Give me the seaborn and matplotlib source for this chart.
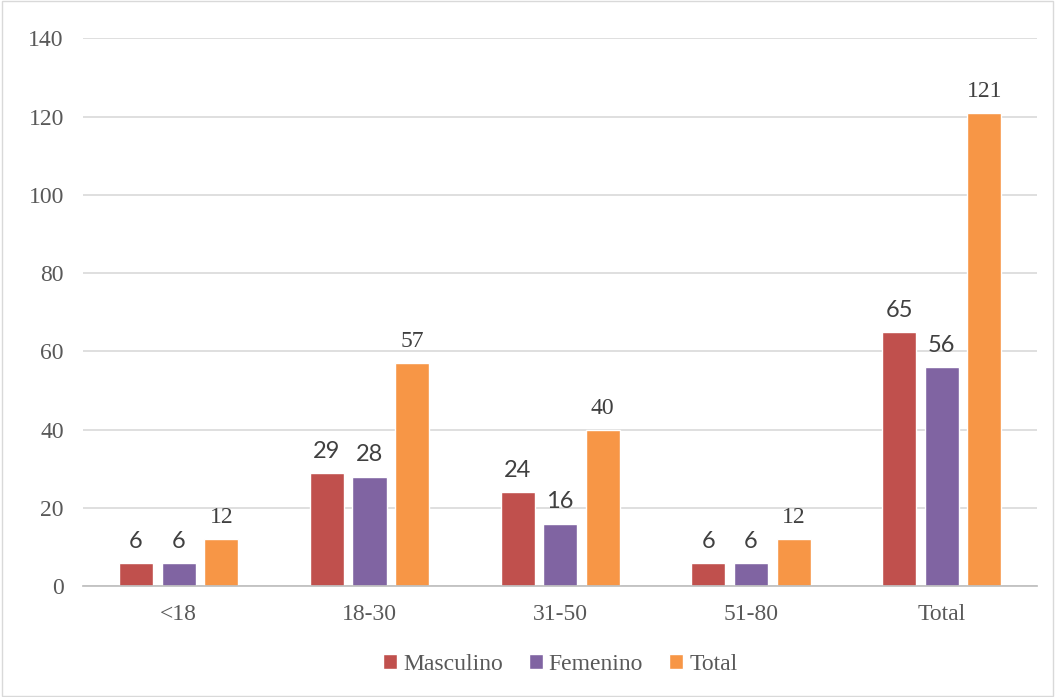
import matplotlib
matplotlib.use("Agg")
import matplotlib.pyplot as plt
import seaborn as sns
import pandas as pd
from matplotlib.patches import Rectangle

categories = ["<18", "18-30", "31-50", "51-80", "Total"]
masculino = [6, 29, 24, 6, 65]
femenino = [6, 28, 16, 6, 56]
total = [12, 57, 40, 12, 121]
series_names = ["Masculino", "Femenino", "Total"]
colors = ["#C0504D", "#8064A2", "#F79646"]

df = pd.DataFrame({
    "grupo": categories * 3,
    "serie": [s for s in series_names for _ in categories],
    "valor": masculino + femenino + total,
})

sns.set_theme(style="white")
plt.rcParams["font.family"] = ["Liberation Serif", "DejaVu Serif"]

fig = plt.figure(figsize=(10.55, 6.97), dpi=100)
ax = fig.add_axes([0.079, 0.159, 0.904, 0.786])

sns.barplot(data=df, x="grupo", y="valor", hue="serie", order=categories,
            hue_order=series_names, palette=colors, width=0.67, gap=0.2,
            saturation=1, ax=ax, legend=True)

ax.set_xlim(-0.5, 4.5)
ax.set_ylim(0, 140)
ax.set_yticks(range(0, 141, 20))
ax.yaxis.grid(True, color="#D9D9D9", linewidth=1.2)
ax.set_axisbelow(True)
for side in ["left", "right", "top"]:
    ax.spines[side].set_visible(False)
ax.spines["bottom"].set_color("#BFBFBF")
ax.tick_params(axis="both", length=0, labelsize=17, colors="#595959")
ax.tick_params(axis="y", pad=14)
ax.tick_params(axis="x", pad=13)
ax.set_xlabel("")
ax.set_ylabel("")

# data labels
for cont, name in zip(ax.containers, series_names):
    if name == "Total":
        ax.bar_label(cont, fmt="%d", padding=8, fontsize=17, color="#404040",
                     family=["Liberation Serif"])
    else:
        ax.bar_label(cont, fmt="%d", padding=8, fontsize=17, color="#404040",
                     family=["Lato", "DejaVu Sans"])

ax.legend(loc="upper center", bbox_to_anchor=(0.5, -0.085), ncol=3, frameon=False,
          prop={"family": "Liberation Serif", "size": 17},
          handlelength=0.6, handleheight=0.6, handletextpad=0.25,
          columnspacing=1.1, labelcolor="#595959")

fig.patches.append(Rectangle((0.002, 0.002), 0.996, 0.996, transform=fig.transFigure,
                             fill=False, edgecolor="#D9D9D9", linewidth=1))

fig.savefig("out.png", dpi=100)
